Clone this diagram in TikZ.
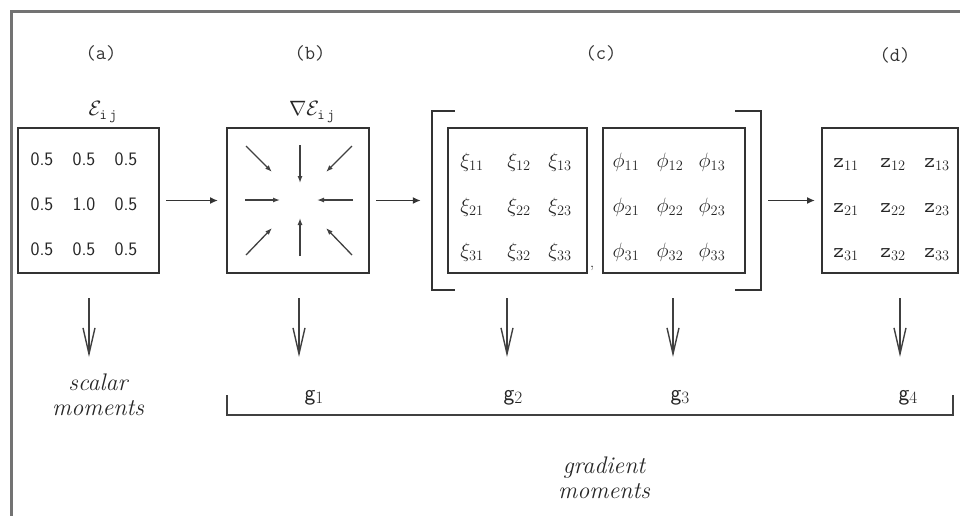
\documentclass[tikz,border=0pt]{standalone}
\usetikzlibrary{arrows.meta}
\begin{document}
\begin{tikzpicture}[x=1pt,y=-1pt,
  box/.style={draw=black!80, line width=2pt, minimum height=145pt, inner sep=0pt},
  lab/.style={font=\fontsize{20}{20}\ttfamily, text=black!80},
  num/.style={font=\fontsize{19}{19}\sffamily, text=black!85, anchor=base},
  ent/.style={font=\fontsize{21}{21}\selectfont, text=black!85, anchor=base},
  ital/.style={font=\fontsize{24}{25}\itshape, text=black!85, align=center},
  gl/.style={font=\fontsize{23}{23}\sffamily, text=black!85, anchor=base west},
  harrow/.style={draw=black!80, line width=1.6pt, -{Latex[length=8pt,width=7pt]}},
  inarrow/.style={draw=black!75, line width=1.3pt, -{Latex[length=7pt,width=5pt]}},
  darrow/.style={draw=black!75, line width=1.6pt, -{Straight Barb[length=26pt,width=12pt,line width=1.4pt]}},
  brk/.style={draw=black!80, line width=2.2pt}
]
\useasboundingbox (0,0) rectangle (960,515);
% frame
\draw[black!55, line width=3pt] (11,520) -- (11,11) -- (965,11);

% labels
\node[lab] (la) at (101,53) {(a)};
\node[lab] (lb) at (310,53) {(b)};
\node[lab] (lc) at (601,53) {(c)};
\node[lab] (ld) at (895,55) {(d)};

% titles
\node[font=\fontsize{22}{22}\selectfont, text=black!85] (ta) at (103,112) {$\mathcal{E}_{\mathtt{i\,j}}$};
\node[font=\fontsize{22}{22}\selectfont, text=black!85] (tb) at (312,112) {$\nabla\mathcal{E}_{\mathtt{i\,j}}$};

% boxes
\node[box, minimum width=141pt] (boxa) at (88.5,200.5) {};
\node[box, minimum width=142pt] (boxb) at (298,200.5) {};
\node[box, minimum width=139pt] (boxc1) at (517.5,200.5) {};
\node[box, minimum width=142pt] (boxc2) at (674,200.5) {};
\node[box, minimum width=136pt] (boxd) at (890,200.5) {};
\node[minimum width=329pt, minimum height=179pt, inner sep=0pt] (cgroup) at (596.5,200.5) {};

% brackets of (c)
\draw[brk] ([xshift=23pt]cgroup.north west) -- (cgroup.north west) -- (cgroup.south west) -- ([xshift=23pt]cgroup.south west);
\draw[brk] ([xshift=-26pt]cgroup.north east) -- (cgroup.north east) -- (cgroup.south east) -- ([xshift=-26pt]cgroup.south east);
\node[font=\fontsize{16}{16}\selectfont, inner sep=0pt] (comma) at (592,268) {,};

% entries of (a)
\foreach \r/\y in {1/165,2/210,3/255}{
  \foreach \c/\x in {1/42,2/84,3/126}{
    \node[num] (a\r\c) at (\x,\y) {\ifnum\r=2 \ifnum\c=2 1.0\else 0.5\fi\else 0.5\fi};
  }
}

% inner arrows of (b)
\coordinate (bnw0) at (246,146); \coordinate (bnw1) at (272,172);
\coordinate (bn0) at (300,145);  \coordinate (bn1) at (300,183);
\coordinate (bne0) at (352,146); \coordinate (bne1) at (326,172);
\coordinate (bw0) at (245,200);  \coordinate (bw1) at (280,200);
\coordinate (be0) at (353,200);  \coordinate (be1) at (317,200);
\coordinate (bsw0) at (246,255); \coordinate (bsw1) at (272,228);
\coordinate (bs0) at (300,256);  \coordinate (bs1) at (300,218);
\coordinate (bse0) at (352,255); \coordinate (bse1) at (326,228);
\foreach \d in {nw,n,ne,w,e,sw,s,se}{
  \draw[inarrow] (b\d0) -- (b\d1);
}

% entries of (c) and (d)
\foreach \r/\y in {1/167,2/212,3/257}{
  \node[ent] (x\r1) at (472,\y) {$\xi_{\r1}$};
  \node[ent] (x\r2) at (519,\y) {$\xi_{\r2}$};
  \node[ent] (x\r3) at (560,\y) {$\xi_{\r3}$};
  \node[ent] (p\r1) at (626,\y) {$\phi_{\r1}$};
  \node[ent] (p\r2) at (670,\y) {$\phi_{\r2}$};
  \node[ent] (p\r3) at (712,\y) {$\phi_{\r3}$};
  \node[ent] (z\r1) at (846,\y) {$\mathtt{z}_{\r1}$};
  \node[ent] (z\r2) at (893,\y) {$\mathtt{z}_{\r2}$};
  \node[ent] (z\r3) at (937,\y) {$\mathtt{z}_{\r3}$};
}

% horizontal connectors
\draw[harrow, shorten <=6pt, shorten >=8pt] (boxa) -- (boxb);
\draw[harrow, shorten <=6pt, shorten >=11pt] (boxb) -- (cgroup);
\draw[harrow, shorten <=7pt, shorten >=6pt] (cgroup) -- (boxd);

% down arrows
\foreach \n/\x in {1/89,2/299,3/507,4/673,5/900}{
  \coordinate (dt\n) at (\x,298);
  \coordinate (dh\n) at (\x,357);
  \draw[darrow] (dt\n) -- (dh\n);
}

% outputs
\node[ital] (scalar) at (98,395) {scalar\\moments};
\node[gl] (g1) at (301,400) {g$_1$};
\node[gl] (g2) at (500,400) {g$_2$};
\node[gl] (g3) at (667,400) {g$_3$};
\node[gl] (g4) at (895,400) {g$_4$};

% gradient bracket
\coordinate (gb1) at (227,395);
\coordinate (gb2) at (227,415);
\coordinate (gb3) at (953,415);
\coordinate (gb4) at (953,395);
\draw[draw=black!75, line width=2pt] (gb1) -- (gb2) -- (gb3) -- (gb4);
\node[ital] (grad) at (604,478) {gradient\\moments};
\end{tikzpicture}
\end{document}
